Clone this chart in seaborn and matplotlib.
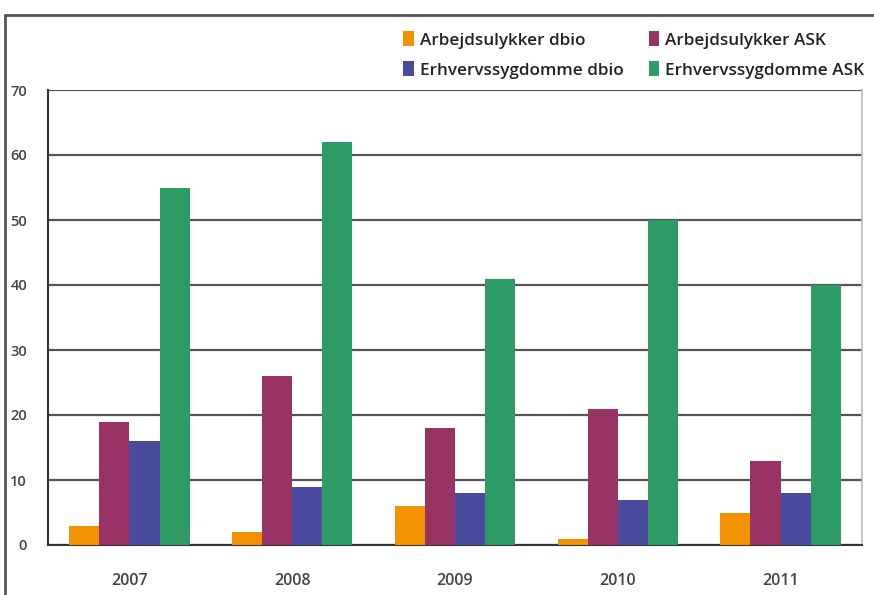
import matplotlib
matplotlib.use("Agg")
import matplotlib.pyplot as plt
import seaborn as sns
import pandas as pd
from matplotlib.lines import Line2D
from matplotlib.patches import Patch

years = ["2007", "2008", "2009", "2010", "2011"]
series_names = ["Arbejdsulykker dbio", "Arbejdsulykker ASK",
                "Erhvervssygdomme dbio", "Erhvervssygdomme ASK"]
arb_dbio = [3, 2, 6, 1, 5]
arb_ask = [19, 26, 18, 21, 13]
erh_dbio = [16, 9, 8, 7, 8]
erh_ask = [55, 62, 41, 50, 40]
colors = ["#F39200", "#993366", "#4A4A9E", "#2E9A64"]
yticks = [0, 10, 20, 30, 40, 50, 60, 70]

rows = []
for name, vals in zip(series_names, [arb_dbio, arb_ask, erh_dbio, erh_ask]):
    for y, v in zip(years, vals):
        rows.append({"year": y, "series": name, "value": v})
df = pd.DataFrame(rows)

sns.set_style("white")
plt.rcParams["font.family"] = ["Open Sans", "DejaVu Sans"]

fig = plt.figure(figsize=(8.74, 5.95), dpi=100)
ax = fig.add_axes([48/874, 1-545/595, (862-48)/874, (545-90)/595])

sns.barplot(data=df, x="year", y="value", hue="series", hue_order=series_names,
            palette=colors, order=years, width=0.74, dodge=True, ax=ax,
            saturation=1, linewidth=0, legend=False, zorder=3)

ax.set_xlim(-0.5, 4.5)
ax.set_ylim(0, 70)
ax.set_yticks(yticks)
ax.set_yticklabels([str(t) for t in yticks])
ax.set_xlabel("")
ax.set_ylabel("")
ax.yaxis.grid(True, color="#555555", linewidth=1.6, zorder=0)
ax.set_axisbelow(True)

for s in ["left", "bottom"]:
    ax.spines[s].set_color("#333333")
    ax.spines[s].set_linewidth(1.5)
ax.spines["top"].set_visible(False)
ax.spines["right"].set_color("#BBBBBB")
ax.spines["right"].set_linewidth(1.2)

ax.tick_params(axis="y", which="major", direction="out", length=6, width=1.3,
               color="#333333", labelsize=10.5, labelcolor="#444444", pad=9)
ax.tick_params(axis="x", which="major", length=0, labelsize=11.5,
               labelcolor="#444444", pad=20)
for lbl in ax.get_xticklabels() + ax.get_yticklabels():
    lbl.set_fontweight("semibold")
ax.set_xticks([0.5, 1.5, 2.5, 3.5, 4.5], minor=True)
ax.tick_params(axis="x", which="minor", direction="out", length=5, width=1.3,
               color="#333333")

handles = [Patch(facecolor=c, edgecolor="none") for c in colors]
order = [0, 2, 1, 3]
leg = fig.legend([handles[i] for i in order], [series_names[i] for i in order],
                 ncol=2, loc="upper left", bbox_to_anchor=(388/874, 1-16/595),
                 frameon=False, fontsize=12.3, handlelength=0.6, handleheight=0.95,
                 handletextpad=0.35, columnspacing=1.5, labelspacing=0.75,
                 labelcolor="#222222")
for t in leg.get_texts():
    t.set_fontweight("semibold")

fig.add_artist(Line2D([5/874, 5/874], [0, 1-15/595], transform=fig.transFigure,
                      color="#555555", linewidth=2))
fig.add_artist(Line2D([5/874, 1], [1-15/595, 1-15/595], transform=fig.transFigure,
                      color="#555555", linewidth=2))

fig.savefig("out.png", dpi=100)
